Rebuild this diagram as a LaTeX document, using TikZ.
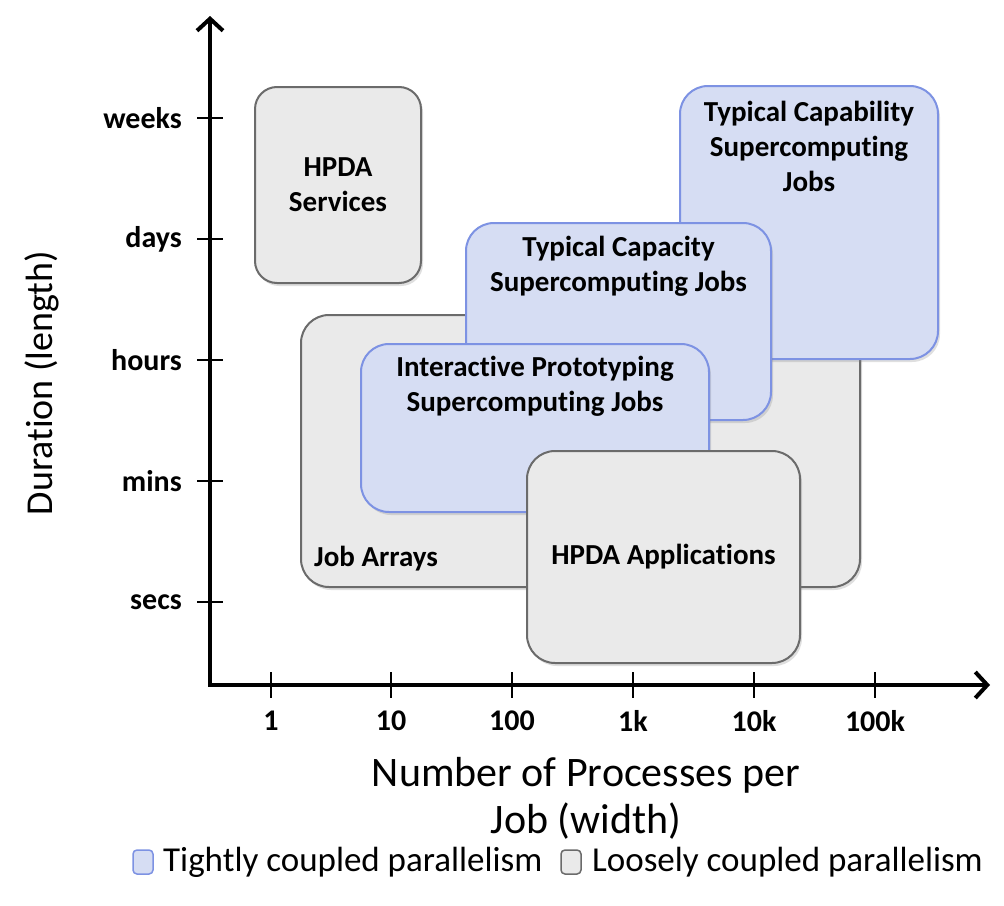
\documentclass[tikz,border=0pt]{standalone}
\usepackage{fontspec}
\setmainfont{Carlito}[Ligatures=NoCommon]
\usetikzlibrary{arrows.meta,shadows,positioning}
\definecolor{tightfill}{HTML}{D6DDF3}
\definecolor{tightedge}{HTML}{7D92E3}
\definecolor{loosefill}{HTML}{EAEAEA}
\definecolor{looseedge}{HTML}{6B6B6B}
\begin{document}
\begin{tikzpicture}[x=1pt,y=-1pt,
  softshadow/.style={drop shadow={opacity=0.25,shadow xshift=2pt,shadow yshift=-3pt}},
  tightbox/.style={draw=tightedge,fill=tightfill,line width=2pt,rounded corners=28pt,inner sep=0pt,softshadow},
  loosebox/.style={draw=looseedge,fill=loosefill,line width=2pt,rounded corners=28pt,inner sep=0pt,softshadow},
  boxtext/.style={font=\bfseries\fontsize{29}{35}\selectfont,align=center,inner sep=0pt},
  ticklabel/.style={font=\bfseries\fontsize{30}{36}\selectfont,inner sep=0pt},
  axislabel/.style={font=\fontsize{38}{47}\selectfont,align=center,inner sep=0pt},
  legendtext/.style={font=\fontsize{35}{40}\selectfont,inner sep=0pt,anchor=west},
  legendkey/.style={line width=1.5pt,rounded corners=4pt,minimum width=20pt,minimum height=24pt,inner sep=0pt},
  axisline/.style={line width=4pt,line join=miter},
  tickmark/.style={line width=2pt}]
\useasboundingbox[fill=white] (0,0) rectangle (1004,905);

% ---- job classes, back to front ----
\node[loosebox,minimum width=166pt,minimum height=196pt,rounded corners=22pt] (svc) at (338,185) {};
\node[boxtext] (svcT) at (svc.center) {HPDA\\Services};

\node[loosebox,minimum width=559pt,minimum height=272pt] (arr) at (580.5,451) {};
\node[boxtext,anchor=base west] (arrT) at ([xshift=14pt,yshift=22pt]arr.south west) {Job Arrays};

\node[tightbox,minimum width=258pt,minimum height=273pt] (cap) at (809,222.5) {};
\node[boxtext,below=16pt of cap.north] (capT) {Typical Capability\\Supercomputing\\Jobs};

\node[tightbox,minimum width=305pt,minimum height=197pt] (cpc) at (618.5,321.5) {};
\node[boxtext,below=14pt of cpc.north] (cpcT) {Typical Capacity\\Supercomputing Jobs};

\node[tightbox,minimum width=348pt,minimum height=168pt] (int) at (535,428) {};
\node[boxtext,below=13pt of int.north] (intT) {Interactive Prototyping\\Supercomputing Jobs};

\node[loosebox,minimum width=273pt,minimum height=212pt] (app) at (663.5,557) {};
\node[boxtext] (appT) at (app.center) {HPDA Applications};

% ---- axes ----
\coordinate (origin) at (210,685);
\coordinate (ytip) at (210,16);
\coordinate (xtip) at (990,685);
\draw[axisline,{Straight Barb[length=12pt,width=26pt,line width=4pt]}-{Straight Barb[length=12pt,width=26pt,line width=4pt]}]
  (ytip) -- (origin) -- (xtip);

% duration ticks
\foreach \lab/\yy in {weeks/118,days/239,hours/360,mins/481,secs/602}{
  \coordinate (yt-\lab) at (210,\yy);
  \draw[tickmark] ([xshift=-13pt]yt-\lab) -- ([xshift=13pt]yt-\lab);
  \node[ticklabel,anchor=east] (yl-\lab) at ([xshift=-28pt]yt-\lab) {\lab};
}

% width ticks
\foreach \lab/\xx in {1/271,10/391,100/512,1k/633,10k/754,100k/875}{
  \coordinate (xt-\lab) at (\xx,685);
  \draw[tickmark] ([yshift=13pt]xt-\lab) -- ([yshift=-13pt]xt-\lab);
  \node[ticklabel] (xl-\lab) at ([yshift=-36pt]xt-\lab) {\lab};
}

% axis titles
\node[axislabel,rotate=90] (ylab) at (42,383) {Duration (length)};
\node[axislabel,font=\fontsize{42}{47}\selectfont] (xlab) at (586,798) {Number of Processes per\\Job (width)};

% ---- legend ----
\node[legendkey,draw=tightedge,fill=tightfill] (keyT) at (143,862) {};
\node[legendtext] (keyTT) at (163,862) {Tightly coupled parallelism};
\node[legendkey,draw=looseedge,fill=loosefill] (keyL) at (571,862) {};
\node[legendtext] (keyLT) at (592,862) {Loosely coupled parallelism};
\end{tikzpicture}
\end{document}
